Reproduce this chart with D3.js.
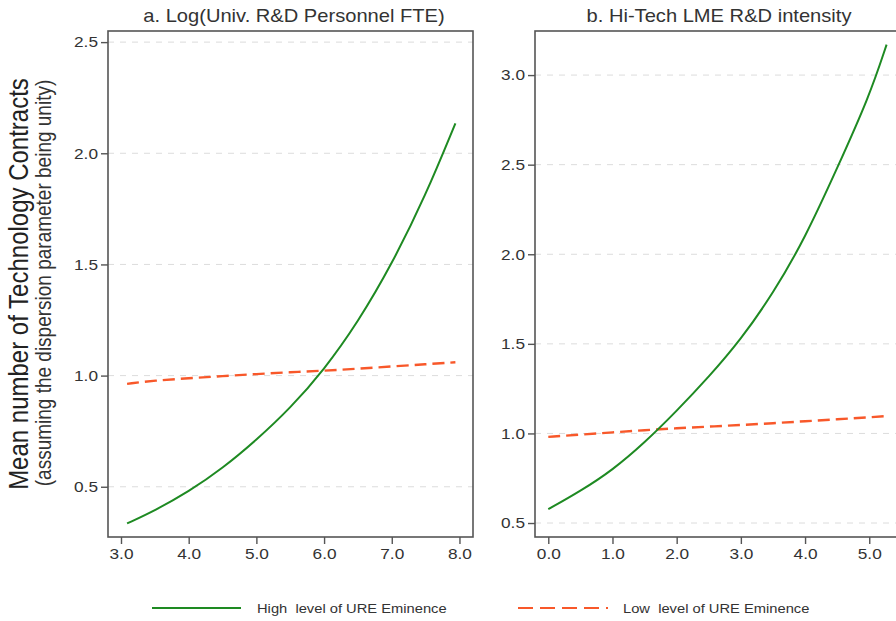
<!DOCTYPE html>
<html>
<head>
<meta charset="utf-8">
<script src="https://cdn.jsdelivr.net/npm/d3@7"></script>
<style>
  html, body { margin: 0; padding: 0; background: #fff; }
  svg { display: block; font-family: "Liberation Sans", Arial, Helvetica, sans-serif; }
  text { white-space: pre; }
</style>
</head>
<body>
<svg id="chart" width="896" height="621"></svg>
<script>
// ---- Data ----
const panelTitles = ["a. Log(Univ. R&D Personnel FTE)", "b. Hi-Tech LME R&D intensity"];
const yAxisTitle = "Mean number of Technology Contracts";
const yAxisSubtitle = "(assuming the dispersion parameter being unity)";
const seriesNames = ["High  level of URE Eminence", "Low  level of URE Eminence"];

const leftX    = [3.09, 3.5, 4.0, 4.5, 5.0, 5.5, 6.0, 6.5, 7.0, 7.5, 7.94];
const leftHigh = [0.335, 0.393, 0.478, 0.583, 0.71, 0.853, 1.026, 1.24, 1.5, 1.81, 2.135];
const leftLow  = [0.963, 0.978, 0.988, 0.998, 1.007, 1.015, 1.022, 1.031, 1.041, 1.051, 1.06];

const rightX    = [0, 0.5, 1.0, 1.5, 2.0, 2.5, 3.0, 3.5, 4.0, 4.5, 5.0, 5.27];
const rightHigh = [0.577, 0.678, 0.795, 0.948, 1.125, 1.315, 1.524, 1.78, 2.09, 2.48, 2.88, 3.17];
const rightLow  = [0.981, 0.993, 1.006, 1.018, 1.029, 1.038, 1.047, 1.057, 1.068, 1.079, 1.09, 1.097];

const leftXTicks  = [3.0, 4.0, 5.0, 6.0, 7.0, 8.0];
const leftYTicks  = [0.5, 1.0, 1.5, 2.0, 2.5];
const rightXTicks = [0.0, 1.0, 2.0, 3.0, 4.0, 5.0];
const rightYTicks = [0.5, 1.0, 1.5, 2.0, 2.5, 3.0];

// ---- Style ----
const GREEN = "#1e8a22";
const ORANGE = "#f8582a";
const FRAME = "#555";
const TXT = "#333";
const SX = 1.15; // horizontal glyph stretch seen in reference

const svg = d3.select("#chart");

function stretchedText(g, x, y, str, size, anchor) {
  return g.append("text")
    .attr("transform", `translate(${x},${y}) scale(${SX},1)`)
    .attr("font-size", size)
    .attr("text-anchor", anchor)
    .attr("fill", TXT)
    .text(str);
}

const panels = [
  { title: panelTitles[0], xs: leftX, hi: leftHigh, lo: leftLow,
    xDom: [2.808, 8.2], xRange: [108, 473], yDom: [0.274, 2.55],
    xTicks: leftXTicks, yTicks: leftYTicks, titleX: 294 },
  { title: panelTitles[1], xs: rightX, hi: rightHigh, lo: rightLow,
    xDom: [-0.207, 5.479], xRange: [535, 900], yDom: [0.422, 3.246],
    xTicks: rightXTicks, yTicks: rightYTicks, titleX: 719 }
];
const yRange = [537, 31];

panels.forEach(p => {
  const x = d3.scaleLinear().domain(p.xDom).range(p.xRange);
  const y = d3.scaleLinear().domain(p.yDom).range(yRange);
  const g = svg.append("g");

  // gridlines
  g.append("g").selectAll("line").data(p.yTicks).join("line")
    .attr("x1", p.xRange[0]).attr("x2", p.xRange[1])
    .attr("y1", d => y(d)).attr("y2", d => y(d))
    .attr("stroke", "#dcdcdc").attr("stroke-width", 1)
    .attr("stroke-dasharray", "6,6");

  // series
  const line = d3.line().x(d => x(d[0])).y(d => y(d[1])).curve(d3.curveBasis);
  g.append("path").datum(p.xs.map((v, i) => [v, p.lo[i]]))
    .attr("d", line).attr("fill", "none").attr("stroke", ORANGE)
    .attr("stroke-width", 2.4).attr("stroke-dasharray", "12,6");
  g.append("path").datum(p.xs.map((v, i) => [v, p.hi[i]]))
    .attr("d", line).attr("fill", "none").attr("stroke", GREEN)
    .attr("stroke-width", 2);

  // frame
  g.append("rect")
    .attr("x", p.xRange[0]).attr("y", yRange[1])
    .attr("width", p.xRange[1] - p.xRange[0]).attr("height", yRange[0] - yRange[1])
    .attr("fill", "none").attr("stroke", FRAME).attr("stroke-width", 1.6);

  // y axis
  const ya = g.append("g").attr("transform", `translate(${p.xRange[0]},0)`)
    .call(d3.axisLeft(y).tickValues(p.yTicks).tickFormat(d3.format(".1f")).tickSize(7).tickPadding(3));
  ya.select(".domain").remove();
  ya.selectAll(".tick line").attr("stroke", FRAME).attr("stroke-width", 1.4);
  ya.selectAll(".tick text").each(function() {
    d3.select(this).attr("transform", `translate(-10,0) scale(${SX},1)`).attr("x", 0)
     .attr("font-size", 15).attr("fill", TXT).attr("font-family", null);
  });

  // x axis
  const xa = g.append("g").attr("transform", `translate(0,${yRange[0]})`)
    .call(d3.axisBottom(x).tickValues(p.xTicks).tickFormat(d3.format(".1f")).tickSize(7).tickPadding(4));
  xa.select(".domain").remove();
  xa.selectAll(".tick line").attr("stroke", FRAME).attr("stroke-width", 1.4);
  xa.selectAll(".tick text").each(function() {
    d3.select(this).attr("transform", `translate(0,11) scale(${SX},1)`).attr("y", 0).attr("dy", "0.71em")
     .attr("font-size", 15).attr("fill", TXT).attr("font-family", null);
  });

  // panel title
  stretchedText(svg, p.titleX, 22, p.title, 17.5, "middle");
});

// y axis titles
svg.append("text")
  .attr("transform", `translate(28,284) scale(${SX},1) rotate(-90)`)
  .attr("font-size", 24).attr("text-anchor", "middle").attr("fill", "#222")
  .text(yAxisTitle);
svg.append("text")
  .attr("transform", `translate(51,283) scale(${SX},1) rotate(-90)`)
  .attr("font-size", 19).attr("text-anchor", "middle").attr("fill", TXT)
  .text(yAxisSubtitle);

// legend
const leg = svg.append("g");
leg.append("line").attr("x1", 152).attr("x2", 241).attr("y1", 608).attr("y2", 608)
  .attr("stroke", GREEN).attr("stroke-width", 2.2);
stretchedText(leg, 257, 613, seriesNames[0], 12.8, "start");
leg.append("line").attr("x1", 518).attr("x2", 608).attr("y1", 608).attr("y2", 608)
  .attr("stroke", ORANGE).attr("stroke-width", 2.2).attr("stroke-dasharray", "15,7");
stretchedText(leg, 623, 613, seriesNames[1], 12.8, "start");
</script>
</body>
</html>
